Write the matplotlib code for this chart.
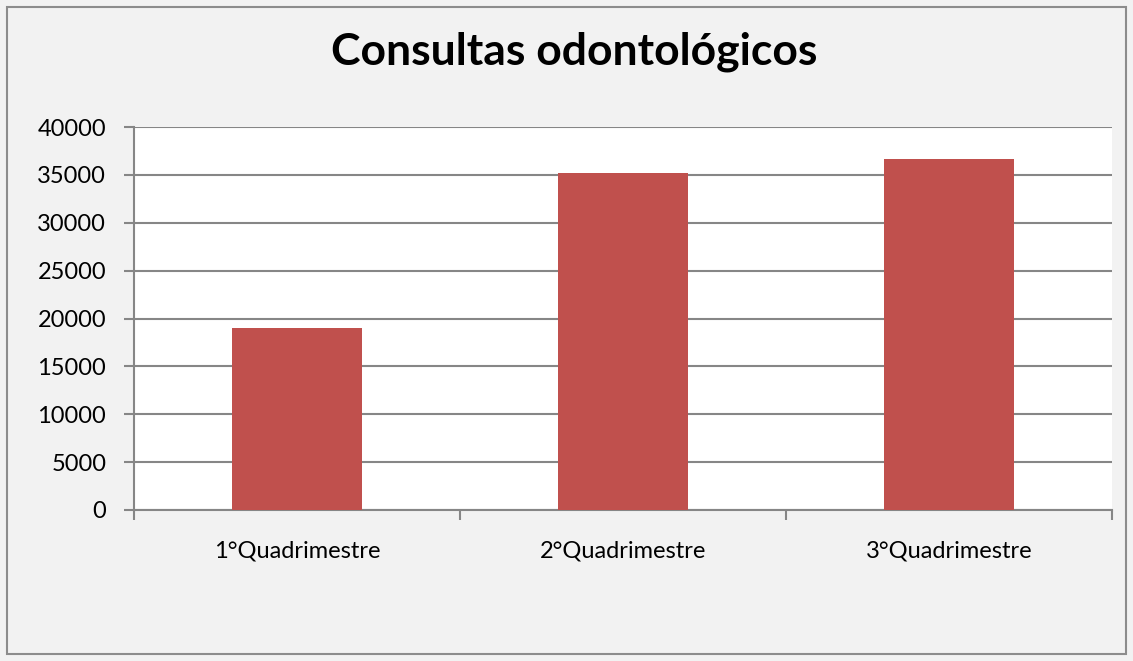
import matplotlib.pyplot as plt
import numpy as np
from matplotlib.patches import Rectangle

categories = ["1°Quadrimestre", "2°Quadrimestre", "3°Quadrimestre"]
values = [19000, 35150, 36700]
yticks = [0, 5000, 10000, 15000, 20000, 25000, 30000, 35000, 40000]

plt.rcParams['font.family'] = ['Lato', 'DejaVu Sans']

fig = plt.figure(figsize=(11.33, 6.61), dpi=100, facecolor="#f2f2f2")
fig.patches.append(Rectangle((7 / 1133, 7 / 661), 1119 / 1133, 647 / 661,
                             transform=fig.transFigure, fill=False,
                             edgecolor="#8c8c8c", linewidth=1.5))

ax = fig.add_axes([134 / 1133, 1 - 510 / 661, 978 / 1133, 383 / 661])
ax.set_facecolor("white")

x = np.arange(len(categories))
ax.bar(x, values, width=0.4, color="#c0504d", zorder=3)

ax.set_xlim(-0.5, 2.5)
ax.set_ylim(0, 40000)
ax.set_yticks(yticks)
ax.set_yticklabels([str(v) for v in yticks], fontsize=17)
ax.yaxis.grid(True, color="#868686", linewidth=1.5, zorder=0)

ax.set_xticks([-0.5, 0.5, 1.5, 2.5])
ax.set_xticklabels([])
ax.set_xticks(x, minor=True)
ax.set_xticklabels(categories, minor=True, fontsize=17)
ax.tick_params(axis="x", which="minor", length=0, pad=22)
ax.tick_params(axis="x", which="major", length=7, width=1.5, color="#868686")
ax.tick_params(axis="y", length=7, width=1.5, color="#868686", pad=13)

for s in ["top", "right"]:
    ax.spines[s].set_visible(False)
for s in ["left", "bottom"]:
    ax.spines[s].set_color("#868686")
    ax.spines[s].set_linewidth(1.5)

fig.text(574 / 1133, 1 - 52 / 661, "Consultas odontológicos", ha="center",
         va="center", fontsize=32, fontweight="bold")

fig.savefig("out.png", dpi=100, facecolor=fig.get_facecolor())
